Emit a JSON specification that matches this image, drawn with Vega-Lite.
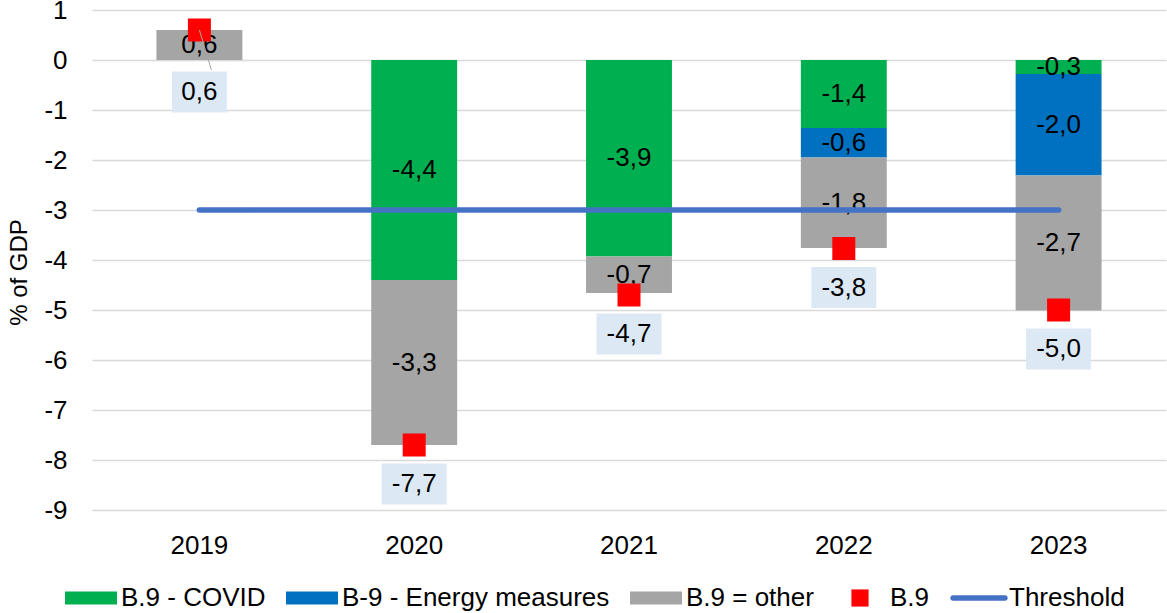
{
  "$schema": "https://vega.github.io/schema/vega-lite/v6.json",
  "width": 1074,
  "height": 500,
  "autosize": {"type": "none"},
  "padding": {"left": 92, "top": 10, "right": 1, "bottom": 103},
  "background": "white",
  "config": {
    "font": "Liberation Sans",
    "view": {"stroke": null},
    "locale": {"number": {"decimal": ",", "thousands": ".", "grouping": [3], "currency": ["", " €"], "minus": "-"}},
    "legend": {
      "orient": "none", "legendX": -27, "legendY": 562, "direction": "horizontal",
      "labelFontSize": 26, "labelColor": "#000000", "labelLimit": 500,
      "symbolSize": 2704, "symbolStrokeWidth": 0, "labelOffset": 4, "columnPadding": 20, "symbolOpacity": 1
    }
  },
  "datasets": {
    "bars": [
      {"year": "2019", "series": "B.9 = other", "ord": 3, "value": 0.6},
      {"year": "2020", "series": "B.9 - COVID", "ord": 1, "value": -4.4},
      {"year": "2020", "series": "B.9 = other", "ord": 3, "value": -3.3},
      {"year": "2021", "series": "B.9 - COVID", "ord": 1, "value": -3.93},
      {"year": "2021", "series": "B.9 = other", "ord": 3, "value": -0.73},
      {"year": "2022", "series": "B.9 - COVID", "ord": 1, "value": -1.36},
      {"year": "2022", "series": "B-9 - Energy measures", "ord": 2, "value": -0.59},
      {"year": "2022", "series": "B.9 = other", "ord": 3, "value": -1.81},
      {"year": "2023", "series": "B.9 - COVID", "ord": 1, "value": -0.28},
      {"year": "2023", "series": "B-9 - Energy measures", "ord": 2, "value": -2.03},
      {"year": "2023", "series": "B.9 = other", "ord": 3, "value": -2.7}
    ],
    "b9": [
      {"year": "2019", "series": "B.9", "value": 0.6},
      {"year": "2020", "series": "B.9", "value": -7.7},
      {"year": "2021", "series": "B.9", "value": -4.7},
      {"year": "2022", "series": "B.9", "value": -3.77},
      {"year": "2023", "series": "B.9", "value": -5.0}
    ],
    "thr": [
      {"year": "2019", "series": "Threshold", "value": -3},
      {"year": "2020", "series": "Threshold", "value": -3},
      {"year": "2021", "series": "Threshold", "value": -3},
      {"year": "2022", "series": "Threshold", "value": -3},
      {"year": "2023", "series": "Threshold", "value": -3}
    ]
  },
  "encoding": {
    "x": {
      "field": "year", "type": "ordinal", "title": null,
      "scale": {"paddingInner": 0.6, "paddingOuter": 0.3},
      "axis": {"labelAngle": 0, "ticks": false, "domain": false, "grid": false, "labelFontSize": 26, "labelColor": "#000000", "labelPadding": 22}
    }
  },
  "layer": [
    {
      "data": {"name": "bars"},
      "transform": [
        {"stack": "value", "groupby": ["year"], "sort": [{"field": "ord", "order": "ascending"}], "as": ["v0", "v1"]},
        {"calculate": "(datum.v0 + datum.v1) / 2", "as": "mid"}
      ],
      "layer": [
        {
          "mark": {"type": "bar", "opacity": 1},
          "encoding": {
            "y": {
              "field": "v0", "type": "quantitative", "title": "% of GDP",
              "scale": {"domain": [-9, 1], "nice": false, "zero": false},
              "axis": {
                "values": [-9, -8, -7, -6, -5, -4, -3, -2, -1, 0, 1], "format": "d",
                "grid": true, "gridColor": "#d9d9d9", "gridWidth": 1.5,
                "ticks": false, "domain": false,
                "labelFontSize": 26, "labelColor": "#000000", "labelPadding": 25,
                "titleFontSize": 24, "titleFontWeight": "normal", "titleColor": "#000000",
                "titleAngle": -90, "titleX": -66, "titleY": 262, "titleAlign": "center", "titleBaseline": "alphabetic"
              }
            },
            "y2": {"field": "v1"},
            "color": {
              "field": "series", "type": "nominal", "title": null,
              "scale": {
                "domain": ["B.9 - COVID", "B-9 - Energy measures", "B.9 = other", "B.9", "Threshold"],
                "range": ["#00b050", "#0070c0", "#a5a5a5", "#ff0000", "#4472c4"]
              }
            },
            "order": {"field": "ord"}
          }
        },
        {
          "mark": {"type": "text", "fontSize": 26, "color": "#000000", "baseline": "middle", "align": "center"},
          "encoding": {
            "y": {"field": "mid", "type": "quantitative", "title": "% of GDP"},
            "text": {"field": "value", "type": "quantitative", "format": ".1f"}
          }
        }
      ]
    },
    {
      "data": {"name": "thr"},
      "mark": {"type": "line", "strokeWidth": 5.5, "strokeCap": "round", "opacity": 1},
      "encoding": {
        "y": {"field": "value", "type": "quantitative", "title": "% of GDP"},
        "color": {"field": "series", "type": "nominal", "title": null}
      }
    },
    {
      "data": {"name": "b9"},
      "layer": [
        {
          "mark": {"type": "point", "filled": true, "size": 4858, "opacity": 1},
          "encoding": {
            "y": {"field": "value", "type": "quantitative", "title": "% of GDP"},
            "color": {"field": "series", "type": "nominal", "title": null},
            "shape": {
              "field": "series", "type": "nominal", "title": null,
              "scale": {
                "domain": ["B.9 - COVID", "B-9 - Energy measures", "B.9 = other", "B.9", "Threshold"],
                "range": [
                  "M-1,-0.25H1V0.25H-1Z",
                  "M-1,-0.25H1V0.25H-1Z",
                  "M-1,-0.25H1V0.25H-1Z",
                  "M-0.33,-0.33H0.33V0.33H-0.33Z",
                  "M-1,-0.105H1A0.105,0.105 0 0 1 1,0.105H-1A0.105,0.105 0 0 1 -1,-0.105Z"
                ]
              }
            }
          }
        },
        {
          "transform": [{"filter": "datum.year === '2019'"}],
          "mark": {"type": "rule", "color": "#a6a6a6", "strokeWidth": 1, "x2Offset": 12, "y2Offset": 40},
          "encoding": {
            "y": {"field": "value", "type": "quantitative"},
            "y2": {"field": "value"},
            "x2": {"field": "year"}
          }
        },
        {
          "transform": [{"filter": "datum.year === '2019'"}],
          "mark": {"type": "point", "filled": true, "opacity": 1, "color": "#dde8f5", "size": 1681, "yOffset": 62, "shape": "M-1.34,-1H1.34V1H-1.34Z"},
          "encoding": {"y": {"field": "value", "type": "quantitative"}}
        },
        {
          "transform": [{"filter": "datum.year !== '2019'"}],
          "mark": {"type": "point", "filled": true, "opacity": 1, "color": "#dde8f5", "size": 1681, "yOffset": 39, "shape": "M-1.585,-1H1.585V1H-1.585Z"},
          "encoding": {"y": {"field": "value", "type": "quantitative"}}
        },
        {
          "transform": [{"filter": "datum.year === '2019'"}],
          "mark": {"type": "text", "fontSize": 26, "color": "#000000", "baseline": "middle", "align": "center", "dy": 62},
          "encoding": {
            "y": {"field": "value", "type": "quantitative"},
            "text": {"field": "value", "type": "quantitative", "format": ".1f"}
          }
        },
        {
          "transform": [{"filter": "datum.year !== '2019'"}],
          "mark": {"type": "text", "fontSize": 26, "color": "#000000", "baseline": "middle", "align": "center", "dy": 39},
          "encoding": {
            "y": {"field": "value", "type": "quantitative"},
            "text": {"field": "value", "type": "quantitative", "format": ".1f"}
          }
        }
      ]
    }
  ]
}
